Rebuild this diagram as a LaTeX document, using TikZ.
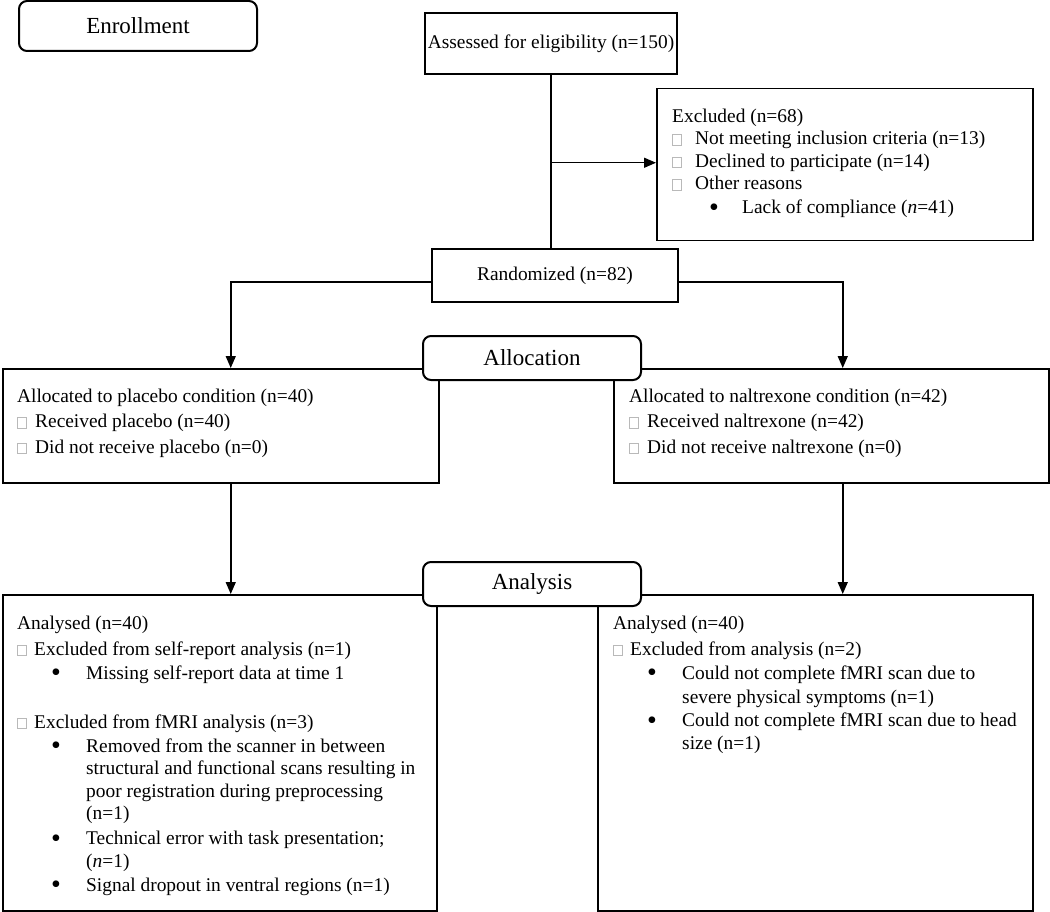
\documentclass[tikz,border=0pt]{standalone}
\usepackage{fontspec}
\setmainfont{Liberation Serif}
\usetikzlibrary{arrows.meta}

\newcommand{\boxglyph}{{\color{gray!55}\setlength{\fboxsep}{0pt}\setlength{\fboxrule}{0.7pt}\fbox{\rule{0pt}{9.5pt}\rule{8.5pt}{0pt}}}}
\newcommand{\bx}[1][17pt]{\makebox[#1][l]{\boxglyph}}
\newcommand{\bigbul}{\raisebox{-2.5pt}{\fontsize{28}{28}\selectfont\textbullet}}
\newcommand{\itembul}{\hspace*{34pt}\makebox[35pt][l]{\bigbul}}
\newcommand{\indnt}{\hspace*{69pt}}

\begin{document}
\begin{tikzpicture}[x=1pt,y=-1pt,
	panel/.style={draw,line width=1.5pt,fill=white,inner sep=0pt},
	stage/.style={draw,line width=2pt,rounded corners=8pt,fill=white,inner sep=0pt,font=\fontsize{23}{27}\selectfont},
	txt/.style={inner sep=0pt,anchor=north west,align=left,font=\fontsize{19.4}{22.5}\selectfont},
	arr/.style={line width=1.5pt,-{Triangle[length=12pt,width=10pt]}}]
	\useasboundingbox (0,0) rectangle (1050,912);

	% boxes
	\node[stage,minimum width=238pt,minimum height=50pt] (enrol) at (138,26) {Enrollment};
	\node[panel,minimum width=252pt,minimum height=61pt,font=\fontsize{19.4}{22.5}\selectfont] (assess) at (551,43.5) {Assessed for eligibility (n=150)};
	\node[panel,minimum width=376pt,minimum height=152pt,anchor=north west] (excl) at (656,88) {};
	\node[panel,minimum width=246pt,minimum height=53pt,font=\fontsize{19.4}{22.5}\selectfont] (rand) at (555,275.5) {Randomized (n=82)};
	\node[panel,minimum width=436pt,minimum height=114pt,anchor=north west] (plc) at (2,368) {};
	\node[panel,minimum width=435pt,minimum height=114pt,anchor=north west] (nal) at (613,368) {};
	\node[panel,minimum width=434pt,minimum height=316pt,anchor=north west] (aplc) at (2,594) {};
	\node[panel,minimum width=435pt,minimum height=316pt,anchor=north west] (anal) at (597,594) {};
	\node[stage,minimum width=218pt,minimum height=44pt] (alloc) at (532,358) {Allocation};
	\node[stage,minimum width=218pt,minimum height=44pt] (anls) at (532,584) {Analysis};

	% texts
	\node[txt] (excl-t) at (672,108.5) {Excluded (n=68)\\
		\bx[23pt]Not meeting inclusion criteria (n=13)\\
		\bx[23pt]Declined to participate (n=14)\\
		\bx[23pt]Other reasons\\[1.5pt]
		\hspace*{37pt}\makebox[33pt][l]{\bigbul}Lack of compliance (\textit{n}=41)};
	\node[txt] (plc-t) at (17,388.5) {Allocated to placebo condition (n=40)\\[3pt]
		\bx[18pt]Received placebo (n=40)\\[3pt]
		\bx[18pt]Did not receive placebo (n=0)};
	\node[txt] (nal-t) at (629,388.5) {Allocated to naltrexone condition (n=42)\\[3pt]
		\bx[18pt]Received naltrexone (n=42)\\[3pt]
		\bx[18pt]Did not receive naltrexone (n=0)};
	\node[txt] (aplc-t) at (17,615.5) {Analysed (n=40)\\[3.5pt]
		\bx Excluded from self-report analysis (n=1)\\[1.5pt]
		\itembul Missing self-report data at time 1\\[26.5pt]
		\bx Excluded from fMRI analysis (n=3)\\[1.5pt]
		\itembul Removed from the scanner in between\\
		\indnt structural and functional scans resulting in\\
		\indnt poor registration during preprocessing\\
		\indnt (n=1)\\[2.5pt]
		\itembul Technical error with task presentation;\\
		\indnt (\textit{n}=1)\\[1.5pt]
		\itembul Signal dropout in ventral regions (n=1)};
	\node[txt] (anal-t) at (613,615.5) {Analysed (n=40)\\[3.5pt]
		\bx Excluded from analysis (n=2)\\[1.5pt]
		\itembul Could not complete fMRI scan due to\\[1.5pt]
		\indnt severe physical symptoms (n=1)\\[1pt]
		\itembul Could not complete fMRI scan due to head\\
		\indnt size (n=1)};

	% connectors
	\draw[line width=1.5pt] (assess.south) -- (assess.south |- rand.north);
	\draw[arr] ([yshift=2pt]assess.south |- excl.west) -- ([yshift=2pt]excl.west);
	\draw[arr] ([yshift=-6.5pt]rand.west) -| ([xshift=10pt]plc.north);
	\draw[arr] ([yshift=-6.5pt]rand.east) -| ([xshift=11.5pt]nal.north);
	\draw[arr] ([xshift=10pt]plc.south) -- ([xshift=10pt]plc.south |- aplc.north);
	\draw[arr] ([xshift=11.5pt]nal.south) -- ([xshift=11.5pt]nal.south |- anal.north);
\end{tikzpicture}
\end{document}
